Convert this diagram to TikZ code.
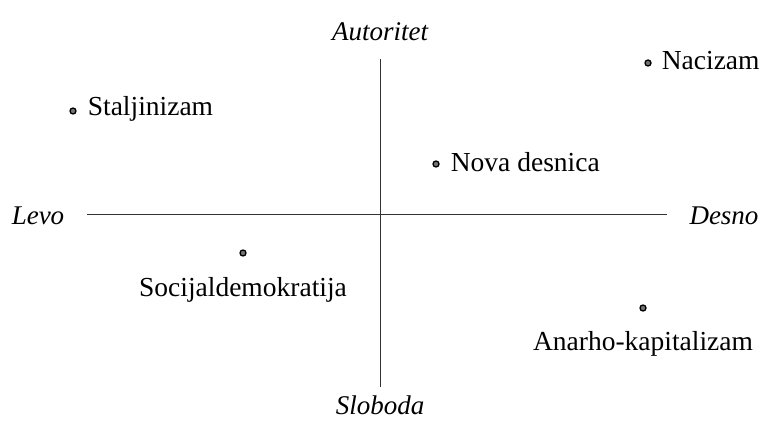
\documentclass[tikz,border=0pt]{standalone}
\usepackage{fontspec}
\setmainfont{Liberation Serif}
\usetikzlibrary{positioning}

\begin{document}
\begin{tikzpicture}[x=1pt,y=-1pt,node distance=6pt,
    dot node/.style={circle,draw=black,fill=black!55,line width=1.3pt,inner sep=0pt,minimum size=6pt},
    party/.style={font=\fontsize{27.5}{31}\selectfont,inner sep=1pt},
    axis label/.style={font=\fontsize{27}{31}\selectfont\itshape,inner sep=0pt}]
    \useasboundingbox (0,0) rectangle (763,422);

    % axes
    \coordinate (left) at (87,215);
    \coordinate (right) at (667,215);
    \coordinate (top) at (380,59);
    \coordinate (bottom) at (380,387);
    \draw[line width=1pt,black!80] (left) -- (right);
    \draw[line width=1pt,black!80] (top) -- (bottom);

    \node[axis label] (a) at (380,32) {Autoritet};
    \node[axis label] (s) at (380,405) {Sloboda};
    \node[axis label] (l) at (38,216) {Levo};
    \node[axis label] (d) at (724,216) {Desno};

    % positions
    \node[dot node] (st) at (73,111) {};
    \node[dot node] (na) at (648,63) {};
    \node[dot node] (nd) at (436,164) {};
    \node[dot node] (sd) at (243,253) {};
    \node[dot node] (an) at (643,308) {};

    \node[party] (st label) [right=10pt of st,yshift=2pt] {Staljinizam};
    \node[party] (na label) [right=9pt of na,yshift=2pt] {Nacizam};
    \node[party] (nd label) [right=10pt of nd,yshift=2pt] {Nova desnica};
    \node[party] (sd label) [below=20pt of sd] {Socijaldemokratija};
    \node[party] (an label) [below=19pt of an] {Anarho-kapitalizam};
\end{tikzpicture}
\end{document}
